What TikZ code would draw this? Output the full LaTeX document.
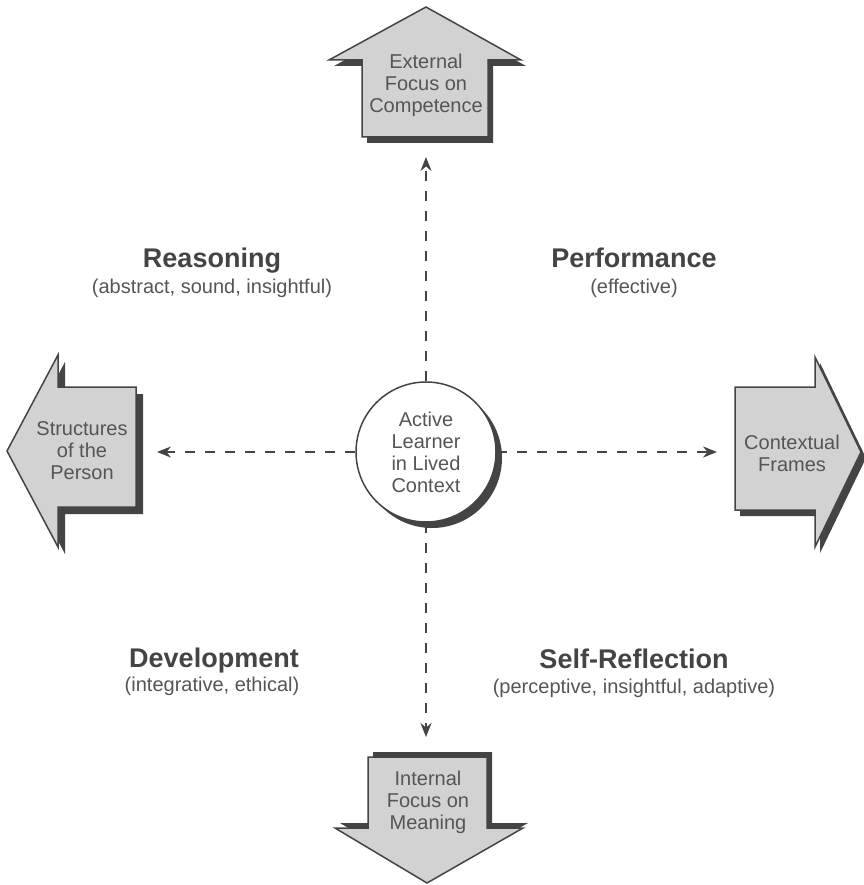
\documentclass[tikz,border=0pt]{standalone}
\usepackage{fontspec}
\setmainfont{Liberation Sans}
\usetikzlibrary{arrows.meta,positioning}
\definecolor{ink}{HTML}{444444}
\definecolor{boxgray}{HTML}{D2D2D2}
\definecolor{txt}{HTML}{555555}

\begin{document}
\begin{tikzpicture}[x=1pt,y=-1pt,
    shade/.style={fill=ink,draw=none},
    block/.style={fill=boxgray,draw=ink,line width=1.5pt,line join=miter},
    label/.style={text=txt,font=\fontsize{20}{22}\selectfont,align=center},
    head/.style={text=ink,font=\fontsize{27}{30}\selectfont\bfseries,anchor=base},
    sub/.style={text=txt,font=\fontsize{20}{22}\selectfont,anchor=base},
    link/.style={draw=ink,line width=1.8pt,dash pattern=on 10pt off 10pt,-{Stealth[length=14pt,width=11pt]}}]
        \useasboundingbox (0,0) rectangle (863,885);
        \def\toppath{(426,7) -- (521,60) -- (488,60) -- (488,137) -- (362,137) -- (362,60) -- (329,60) -- cycle}
        \def\leftpath{(7,451) -- (58,355) -- (58,387) -- (136,387) -- (136,507) -- (58,507) -- (58,547) -- cycle}
        \def\rightpath{(735,387) -- (815,387) -- (815,357) -- (861,452) -- (815,547) -- (815,510) -- (735,510) -- cycle}
        \def\bottompath{(368,757) -- (487,757) -- (487,828) -- (523,828) -- (427,883) -- (335,828) -- (368,828) -- cycle}
        % shadows first, then the arrows
        \path[shade,shift={(5,6)}] \toppath;
        \path[shade,shift={(7,7)}] \leftpath;
        \path[shade,shift={(5,6)}] \rightpath;
        \path[shade,shift={(5,-5)}] \bottompath;
        \path[block] \toppath;
        \path[block] \leftpath;
        \path[block] \rightpath;
        \path[block] \bottompath;
        \node[label] (ext) at (426,85) {External\\Focus on\\Competence};
        \node[label] (person) at (82,451) {Structures\\of the\\Person};
        \node[label] (frames) at (792,453) {Contextual\\Frames};
        \node[label] (int) at (428,802) {Internal\\Focus on\\Meaning};
        % centre
        \fill[shade] (432,458) circle (70);
        \node[circle,fill=white,draw=ink,line width=1.5pt,minimum size=140pt,inner sep=0pt,label] (learner) at (426,452) {Active\\Learner\\in Lived\\Context};
        \coordinate (toext) at (426,157);
        \coordinate (toint) at (426,737);
        \coordinate (toperson) at (157,452);
        \coordinate (toframes) at (717,452);
        \draw[link] (learner) -- (toext);
        \draw[link] (learner) -- (toint);
        \draw[link] (learner) -- (toperson);
        \draw[link] (learner) -- (toframes);
        % quadrants
        \node[head] (reason) at (212,267) {Reasoning};
        \node[sub] (reasonsub) at (212,293) {(abstract, sound, insightful)};
        \node[head] (perf) at (634,267) {Performance};
        \node[sub] (perfsub) at (634,293) {(effective)};
        \node[head] (dev) at (214,667) {Development};
        \node[sub] (devsub) at (212,691) {(integrative, ethical)};
        \node[head] (self) at (634,668) {Self-Reflection};
        \node[sub] (selfsub) at (634,693) {(perceptive, insightful, adaptive)};
\end{tikzpicture}
\end{document}
